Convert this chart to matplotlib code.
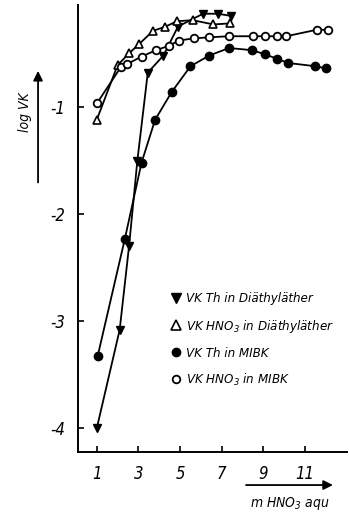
import matplotlib.pyplot as plt
from matplotlib.lines import Line2D

plt.rcParams['font.family'] = ['Liberation Sans Narrow', 'DejaVu Sans']
plt.rcParams['font.style'] = 'italic'
plt.rcParams['font.stretch'] = 'condensed'

# Th in Diaethylaether
th_eth_x = [1.0, 2.1, 2.55, 2.95, 3.45, 4.2, 4.9, 6.1, 6.8, 7.45]
th_eth_y = [-4.0, -3.08, -2.3, -1.5, -0.68, -0.52, -0.25, -0.13, -0.13, -0.15]

# HNO3 in Diaethylaether
hno3_eth_x = [1.0, 2.0, 2.55, 3.05, 3.7, 4.3, 4.85, 5.6, 6.6, 7.4]
hno3_eth_y = [-1.12, -0.61, -0.5, -0.41, -0.29, -0.25, -0.2, -0.19, -0.23, -0.22]

# Th in MIBK
th_mibk_x = [1.05, 2.35, 3.15, 3.8, 4.6, 5.5, 6.4, 7.35, 8.45, 9.1, 9.65, 10.2, 11.5, 12.0]
th_mibk_y = [-3.32, -2.23, -1.52, -1.12, -0.86, -0.62, -0.52, -0.45, -0.47, -0.51,
             -0.55, -0.59, -0.62, -0.64]

# HNO3 in MIBK
hno3_mibk_x = [1.03, 2.15, 2.45, 3.15, 3.85, 4.45, 4.95, 5.65, 6.4, 7.35, 8.5, 9.1,
               9.65, 10.1, 11.55, 12.1]
hno3_mibk_y = [-0.96, -0.63, -0.6, -0.53, -0.47, -0.43, -0.38, -0.36, -0.35, -0.34,
               -0.34, -0.34, -0.34, -0.34, -0.28, -0.28]

fig = plt.figure(figsize=(3.49, 5.16), dpi=100)
ax = fig.add_axes([0.2235, 0.124, 0.77, 0.866])

ax.plot(th_eth_x, th_eth_y, 'k-', marker='v', ms=6, mfc='k', lw=1.3)
ax.plot(hno3_eth_x, hno3_eth_y, 'k-', marker='^', ms=6, mfc='white', mew=1.2, lw=1.3)
ax.plot(th_mibk_x, th_mibk_y, 'k-', marker='o', ms=6, mfc='k', lw=1.3)
ax.plot(hno3_mibk_x, hno3_mibk_y, 'k-', marker='o', ms=5.5, mfc='white', mew=1.3, lw=1.3)

ax.set_xlim(0.1, 13.0)
ax.set_ylim(-4.22, -0.05)
ax.set_xticks([1, 3, 5, 7, 9, 11])
ax.set_yticks([-1, -2, -3, -4])
ax.set_yticklabels(['-1', '-2', '-3', '-4'])
ax.spines['top'].set_visible(False)
ax.spines['right'].set_visible(False)
for s in ['left', 'bottom']:
    ax.spines[s].set_linewidth(1.4)
ax.tick_params(direction='in', length=4, width=1.2, labelsize=12, pad=9)

# axis titles with arrows
fig.text(0.072, 0.783, 'log VK', rotation=90, fontsize=10,
         ha='center', va='center')
ax.annotate('', xy=(0.109, 0.868), xytext=(0.109, 0.641), xycoords='figure fraction',
            arrowprops=dict(arrowstyle='-|>', color='k', lw=1.3, mutation_scale=14))
ax.annotate('', xy=(0.962, 0.06), xytext=(0.697, 0.06), xycoords='figure fraction',
            arrowprops=dict(arrowstyle='-|>', color='k', lw=1.3, mutation_scale=14))
fig.text(0.83, 0.025, 'm HNO$_3$ aqu', fontsize=10, ha='center', va='center')

handles = [
    Line2D([], [], ls='none', marker='v', color='k', mfc='k', ms=7),
    Line2D([], [], ls='none', marker='^', color='k', mfc='white', mew=1.2, ms=7),
    Line2D([], [], ls='none', marker='o', color='k', mfc='k', ms=6),
    Line2D([], [], ls='none', marker='o', color='k', mfc='white', mew=1.3, ms=5.5),
]
labels = ['VK Th in Diäthyläther', 'VK HNO$_3$ in Diäthyläther',
          'VK Th in MIBK', 'VK HNO$_3$ in MIBK']
ax.legend(handles, labels, loc='upper left', bbox_to_anchor=(0.32, 0.372),
          frameon=False, fontsize=9.5, handlelength=0.8, handletextpad=0.4,
          labelspacing=0.92, borderpad=0)

fig.savefig('out.png', dpi=100)
